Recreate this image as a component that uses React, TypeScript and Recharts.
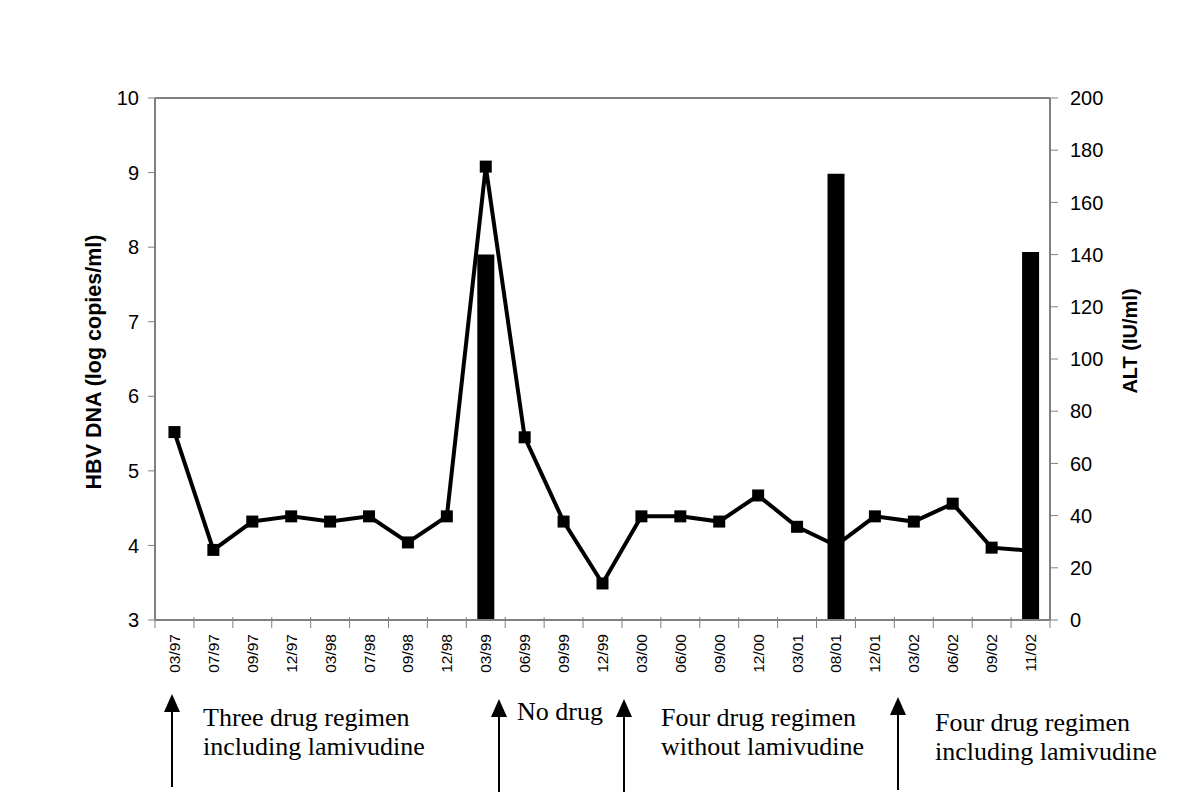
import React from 'react';
import { ComposedChart, Bar, Line, XAxis, YAxis, ReferenceLine } from 'recharts';

const DATES = ['03/97', '07/97', '09/97', '12/97', '03/98', '07/98', '09/98', '12/98', '03/99', '06/99', '09/99', '12/99', '03/00', '06/00', '09/00', '12/00', '03/01', '08/01', '12/01', '03/02', '06/02', '09/02', '11/02'];
const HBV_DNA = [5.52, 3.94, 4.32, 4.39, 4.32, 4.39, 4.04, 4.39, 9.08, 5.45, 4.32, 3.49, 4.39, 4.39, 4.32, 4.67, 4.25, 4.0, 4.39, 4.32, 4.56, 3.97, 3.93];
const ALT = [null, null, null, null, null, null, null, null, 140, null, null, null, null, null, null, null, null, 171, null, null, null, null, 141];
const LEFT_TICKS = [3, 4, 5, 6, 7, 8, 9, 10];
const RIGHT_TICKS = [0, 20, 40, 60, 80, 100, 120, 140, 160, 180, 200];

const NOTES = [
  { x: 172, top: 694, lines: ['Three drug regimen', 'including lamivudine'], tx: 203, ty: 703 },
  { x: 499, top: 699, lines: ['No drug'], tx: 517, ty: 697 },
  { x: 624, top: 699, lines: ['Four drug regimen', 'without lamivudine'], tx: 661, ty: 703 },
  { x: 898, top: 697, lines: ['Four drug regimen', 'including lamivudine'], tx: 935, ty: 708 },
];

const rows = DATES.map((d, i) => ({ date: d, hbv: HBV_DNA[i], alt: ALT[i] }));

const PLOT_W = 895;
const STEP = PLOT_W / DATES.length;
const AXIS = '#808080';
const SANS = 'Arial, "Liberation Sans", sans-serif';

const DateTick = (props: any) => {
  const { x, y, payload, index } = props;
  const half = STEP / 2;
  return (
    <g>
      <line x1={x - half} y1={y - 5} x2={x - half} y2={y + 6} stroke={AXIS} />
      {index === DATES.length - 1 && <line x1={x + half} y1={y - 5} x2={x + half} y2={y + 6} stroke={AXIS} />}
      <text
        transform={`translate(${x},${y + 12}) rotate(-90)`}
        textAnchor="end"
        dominantBaseline="central"
        fontSize={15.5}
        fontFamily={SANS}
        fill="#000"
      >
        {payload.value}
      </text>
    </g>
  );
};

const SquareDot = (props: any) => {
  const { cx, cy, index } = props;
  if (cx == null || cy == null) return <g key={`d-${index}`} />;
  return <rect key={`d-${index}`} x={cx - 6} y={cy - 6} width={12} height={12} fill="#000" />;
};

export default function App() {
  return (
    <div style={{ position: 'absolute', left: 0, top: 0, width: 1199, height: 811, background: '#fff' }}>
      <ComposedChart width={1199} height={811} data={rows} margin={{ top: 98, right: 0, bottom: 91, left: 0 }}>
        <XAxis
          dataKey="date"
          interval={0}
          height={100}
          tickLine={false}
          tickSize={0}
          tick={<DateTick />}
          axisLine={{ stroke: AXIS, strokeWidth: 2 }}
        />
        <YAxis
          yAxisId="left"
          width={155}
          domain={[3, 10]}
          ticks={LEFT_TICKS}
          interval={0}
          tickSize={7}
          tickMargin={9}
          axisLine={{ stroke: AXIS, strokeWidth: 2 }}
          tickLine={{ stroke: AXIS }}
          tick={{ fontSize: 20, fontFamily: SANS, fill: '#000' }}
          label={{
            content: () => (
              <text transform="translate(94,362) rotate(-90)" textAnchor="middle" dominantBaseline="central" fontSize={21.5} fontWeight="bold" fontFamily={SANS} fill="#000">
                HBV DNA (log copies/ml)
              </text>
            ),
          }}
        />
        <YAxis
          yAxisId="right"
          orientation="right"
          width={149}
          domain={[0, 200]}
          ticks={RIGHT_TICKS}
          interval={0}
          tickSize={8}
          tickMargin={12}
          axisLine={{ stroke: AXIS, strokeWidth: 2 }}
          tickLine={{ stroke: AXIS }}
          tick={{ fontSize: 20, fontFamily: SANS, fill: '#000' }}
          label={{
            content: () => (
              <text transform="translate(1130,341) rotate(-90)" textAnchor="middle" dominantBaseline="central" fontSize={20} fontWeight="bold" fontFamily={SANS} fill="#000">
                ALT (IU/ml)
              </text>
            ),
          }}
        />
        <ReferenceLine yAxisId="left" y={10} stroke={AXIS} strokeWidth={2} />
        <Bar yAxisId="right" dataKey="alt" fill="#000" barSize={17} isAnimationActive={false} />
        <Line
          yAxisId="left"
          dataKey="hbv"
          type="linear"
          stroke="#000"
          strokeWidth={4}
          dot={SquareDot}
          activeDot={false}
          isAnimationActive={false}
        />
      </ComposedChart>
      <svg width={1199} height={811} style={{ position: 'absolute', left: 0, top: 0, pointerEvents: 'none' }}>
        {NOTES.map((n) => (
          <g key={n.x}>
            <line x1={n.x} y1={n.top + 14} x2={n.x} y2={n.top + 93} stroke="#000" strokeWidth={2} />
            <polygon points={`${n.x},${n.top} ${n.x - 8},${n.top + 18} ${n.x + 8},${n.top + 18}`} fill="#000" />
          </g>
        ))}
      </svg>
      {NOTES.map((n) => (
        <div
          key={`t-${n.x}`}
          style={{
            position: 'absolute',
            left: n.tx,
            top: n.ty,
            fontFamily: '"Times New Roman", "Liberation Serif", serif',
            fontSize: 26,
            lineHeight: '29px',
            whiteSpace: 'nowrap',
            color: '#000',
          }}
        >
          {n.lines.map((l) => (
            <div key={l}>{l}</div>
          ))}
        </div>
      ))}
    </div>
  );
}
